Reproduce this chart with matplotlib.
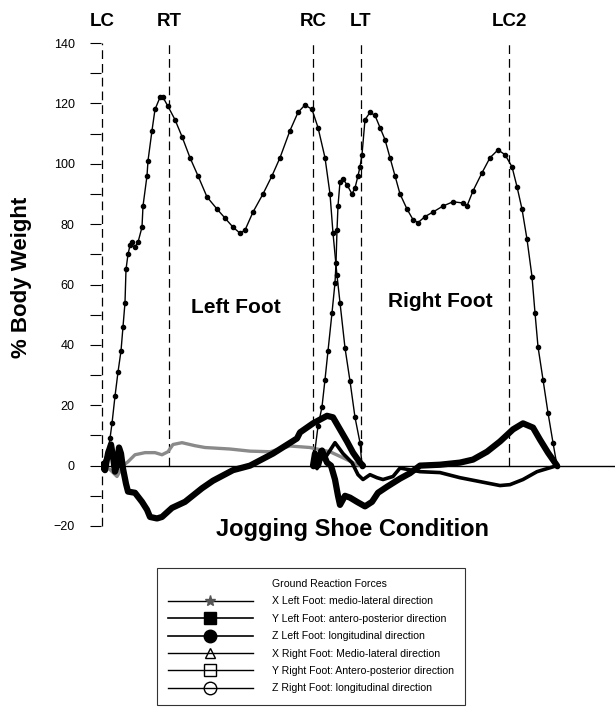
import matplotlib
matplotlib.use("Agg")
import matplotlib.pyplot as plt
from matplotlib.lines import Line2D

plt.rcParams["font.family"] = ["Liberation Sans", "DejaVu Sans"]

# time axis in samples (LC heel strike = 0)
events = ["LC", "RT", "RC", "LT", "LC2"]
event_t = [0, 67, 211, 259, 407]

# Z (longitudinal) forces, % body weight
z_left_t = [0, 1, 6, 8, 10, 13, 16, 19, 21, 23, 24, 26, 28, 30, 33, 36, 40, 41,
            45, 46, 50, 53, 58, 61, 66, 73, 80, 88, 96, 105, 115, 123, 131, 138,
            143, 151, 161, 170, 178, 188, 196, 203, 210, 216, 223, 228, 231, 235,
            238, 243, 248, 253, 258, 260]
z_left = [0, 1, 5, 9, 14, 23, 31, 38, 46, 54, 65, 70, 73, 74, 72.5, 74, 79, 86,
          96, 101, 111, 118, 122, 122, 119, 114.6, 109, 102, 96, 89, 85, 82, 79, 77,
          78, 84, 90, 96, 102, 111, 117, 119.5, 118, 112, 102, 90, 77, 63,
          54, 39, 28, 16, 7.6, 0]

z_right_t = [211, 216, 220, 223, 226, 230, 233, 234, 235, 236, 238, 241, 245, 250,
             253, 256, 258, 260, 263, 268, 273, 278, 283, 288, 293, 298, 305, 311,
             316, 323, 331, 341, 351, 361, 365, 371, 380, 388, 396, 403, 410, 415,
             420, 425, 430, 433, 436, 441, 446, 451, 455]
z_right = [0, 13, 19.5, 28.5, 38, 50.6, 60.6, 67, 78, 86, 94, 95, 93, 90,
           92, 96, 99, 103, 114.6, 117, 116, 112, 108, 102, 96, 90, 85, 81.5,
           80.5, 82.5, 84, 86, 87.4, 87, 86, 91, 97, 102, 104.6, 103, 99, 92.4,
           85, 75, 62.6, 50.6, 39.4, 28.5, 17.5, 7.6, 0]

# Y (antero-posterior) forces
y_left_t = [0, 3, 6, 9, 11, 13, 15, 17, 19, 21, 24, 26, 33, 40, 45, 48, 55, 60,
            70, 83, 100, 111, 131, 148, 171, 195, 198, 211, 225, 231, 238, 245,
            251, 258, 261]
y_left = [0, -1.5, 4, 7, 3, -2, 0, 6, 4, -1, -6, -8.6, -9, -12, -14.6, -17, -17.5,
          -17, -14, -12, -7.5, -5, -1.5, 0, 4, 9, 11, 14, 16.5, 16, 12, 8,
          4.3, 1, 0]

y_right_t = [211, 213, 216, 220, 225, 229, 233, 236, 238, 243, 248, 255, 263, 270,
             276, 285, 298, 308, 318, 338, 358, 371, 385, 398, 411, 421, 431, 438,
             446, 455]
y_right = [0, 4, 0, 5, 1, 0, -4.6, -10, -13, -10, -10.6, -12, -13.5, -12,
           -9, -7, -4.3, -2.5, 0, 0.3, 1, 2, 4.6, 8, 12, 14, 12.6, 8.6,
           4.3, 0]

# X (medio-lateral) forces
x_left_t = [0, 8, 15, 21, 26, 33, 43, 53, 60, 66, 71, 80, 93, 103, 128, 148, 168,
            188, 208, 228, 241, 255, 260]
x_left = [0, -1.3, -3.6, 0, 1.3, 3.6, 4.3, 4.3, 3.6, 4.6, 7, 7.6, 6.6, 6, 5.5,
          4.8, 4.6, 6.5, 6, 4.6, 2.6, 0.3, 0]

x_right_t = [211, 213, 215, 218, 222, 226, 233, 241, 250, 256, 261, 268, 275, 281,
             291, 298, 318, 338, 358, 378, 398, 408, 421, 435, 448, 455]
x_right = [0, 2, -1, 5, 2, 4, 7.6, 4, 1, -3, -4.6, -3, -4, -4.6, -3.6, -0.8,
           -2, -2.3, -4, -5.3, -6.6, -6.3, -4.6, -2, -0.7, 0]

legend_labels = [
    "X Left Foot: medio-lateral direction",
    "Y Left Foot: antero-posterior direction",
    "Z Left Foot: longitudinal direction",
    "X Right Foot: Medio-lateral direction",
    "Y Right Foot: Antero-posterior direction",
    "Z Right Foot: longitudinal direction",
]

fig = plt.figure(figsize=(6.15, 7.11), dpi=100)
ax = fig.add_axes([101 / 615, 1 - 526 / 711, 514 / 615, 483 / 711])
ax.set_xlim(-1, 513)
ax.set_ylim(-20, 140)

for s in ax.spines.values():
    s.set_visible(False)

ax.axhline(0, color="black", lw=1.0)

# event lines
for name, t in zip(events, event_t):
    ymin = -20 if name == "LC" else 0
    ax.vlines(t, ymin, 140, colors="black", lw=0.9, linestyles=(0, (7, 4)),
              clip_on=False)
    ax.text(t, 147, name, ha="center", va="center", fontsize=13.5,
            fontweight="bold", clip_on=False)

ax.plot(x_left_t, x_left, color="#8a8a8a", lw=2.4)
ax.plot(y_left_t, y_left, color="black", lw=4.5, solid_capstyle="round")
ax.plot(z_left_t, z_left, color="black", lw=1.0, marker="o", ms=3.0)
ax.plot(x_right_t, x_right, color="black", lw=2.6)
ax.plot(y_right_t, y_right, color="black", lw=4.5, solid_capstyle="round")
ax.plot(z_right_t, z_right, color="black", lw=1.0, marker="o", ms=3.0)

ax.text(134, 52.5, "Left Foot", ha="center", va="center", fontsize=15,
        fontweight="bold")
ax.text(338, 54.5, "Right Foot", ha="center", va="center", fontsize=15,
        fontweight="bold")
ax.text(251, -21, "Jogging Shoe Condition", ha="center", va="center",
        fontsize=17, fontweight="bold", clip_on=False)

ax.set_xticks([])
ax.set_yticks(range(-20, 141, 20))
ax.set_yticks(range(-20, 141, 10), minor=True)
ax.tick_params(axis="y", which="both", length=8, width=0.8, direction="out")
ax.tick_params(axis="y", which="major", labelsize=9, pad=11)
ax.set_ylabel("% Body Weight", fontsize=16, fontweight="bold")
ax.yaxis.set_label_coords(-0.135, 0.515)

handles = [
    Line2D([], [], color="none"),
    Line2D([], [], color="black", lw=1, marker="*", ms=8, mfc="#555555", mec="#555555"),
    Line2D([], [], color="black", lw=1.2, marker="s", ms=9, mfc="black"),
    Line2D([], [], color="black", lw=1.2, marker="o", ms=9, mfc="black"),
    Line2D([], [], color="black", lw=1, marker="^", ms=7, mfc="none"),
    Line2D([], [], color="black", lw=1, marker="s", ms=9, mfc="none"),
    Line2D([], [], color="black", lw=1, marker="o", ms=9, mfc="none"),
]
leg = fig.legend(handles, ["Ground Reaction Forces"] + legend_labels,
                 loc="upper left", bbox_to_anchor=(157 / 615, 1 - 568 / 711),
                 fontsize=7.6, frameon=True, fancybox=False, edgecolor="black",
                 handlelength=8, handletextpad=1.8, labelspacing=0.7,
                 borderpad=1.05, borderaxespad=0)
leg.get_frame().set_linewidth(0.8)

fig.savefig("out.png", dpi=100)
